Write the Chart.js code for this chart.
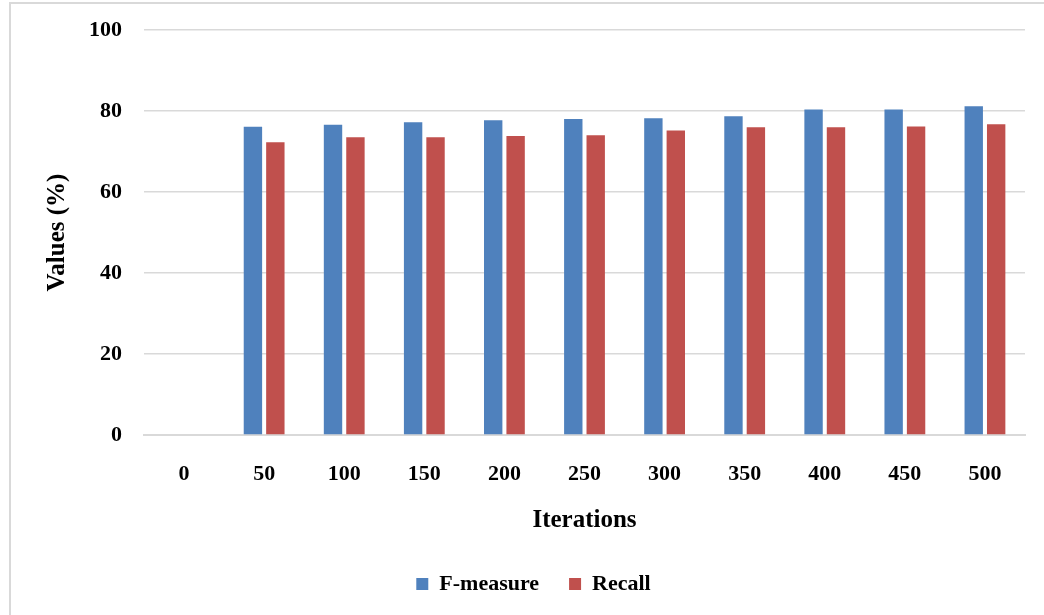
<!DOCTYPE html>
<html>
<head>
  <title>F-measure and Recall vs Iterations</title>
  <style>
    body { margin: 0; background: #fff; overflow: hidden; }
    /* thin grey frame round the chart, like the exported figure */
    .frame { position: absolute; left: 9px; top: 2px; width: 1100px; height: 700px; border: 2px solid #d9d9d9; }
    #chart { position: absolute; left: 0; top: 0; }
  </style>
</head>
<body>
  <div class="frame"></div>
  <canvas id="chart" width="1044" height="615"></canvas>

  <script src="https://cdn.jsdelivr.net/npm/chart.js"></script>
  <script>
    // data
    const iterations = ['0', '50', '100', '150', '200', '250', '300', '350', '400', '450', '500'];
    const fMeasure = [null, 76.1, 76.6, 77.2, 77.7, 78.0, 78.2, 78.7, 80.4, 80.4, 81.2];
    const recall = [null, 72.3, 73.5, 73.5, 73.8, 74.0, 75.2, 76.0, 76.0, 76.2, 76.7];
    const yMin = 0, yMax = 100, yStep = 20;

    const serif = 'Liberation Serif, Times New Roman, serif';
    const grey = '#d9d9d9';

    // nudge the legend a little right and up, as in the original
    const legendShift = {
      id: 'legendShift',
      afterLayout(chart) {
        const lg = chart.legend;
        lg.left += 21; lg.right += 21;
        lg.top -= 10; lg.bottom -= 10;
      }
    };

    const ctx = document.getElementById('chart').getContext('2d');
    new Chart(ctx, {
      type: 'bar',
      data: {
        labels: iterations,
        datasets: [
          { label: 'F-measure', data: fMeasure, backgroundColor: '#4f81bd', borderWidth: 0 },
          { label: 'Recall', data: recall, backgroundColor: '#c0504d', borderWidth: 0 }
        ]
      },
      plugins: [legendShift],
      options: {
        responsive: false,
        animation: false,
        layout: { padding: { left: 0, right: 19, top: 30, bottom: 0 } },
        datasets: { bar: { categoryPercentage: 0.56, barPercentage: 0.82 } },
        plugins: {
          tooltip: { enabled: false },
          legend: {
            position: 'bottom',
            labels: {
              boxWidth: 12, boxHeight: 12, padding: 30,
              color: '#000',
              font: { family: serif, size: 22, weight: 'bold' }
            }
          }
        },
        scales: {
          x: {
            grid: { display: false, drawTicks: false },
            border: { color: grey, width: 2 },
            ticks: { color: '#000', padding: 26, font: { family: serif, size: 22, weight: 'bold' } },
            title: {
              display: true, text: 'Iterations', color: '#000',
              padding: { top: 0, bottom: 17 },
              font: { family: serif, size: 25, weight: 'bold' }
            },
            afterFit: (s) => { s.height = 118; }
          },
          y: {
            min: yMin, max: yMax,
            // invisible tick marks keep the labels clear of the grid
            grid: { color: grey, lineWidth: 1.5, drawTicks: true, tickLength: 20, tickColor: 'rgba(0,0,0,0)' },
            border: { display: false },
            ticks: { stepSize: yStep, color: '#000', padding: 2, font: { family: serif, size: 22, weight: 'bold' } },
            title: {
              display: true, text: 'Values (%)', color: '#000',
              padding: { top: 43, bottom: 0 },
              font: { family: serif, size: 25, weight: 'bold' }
            },
            afterFit: (s) => { s.width = 144; }
          }
        }
      }
    });
  </script>
</body>
</html>
